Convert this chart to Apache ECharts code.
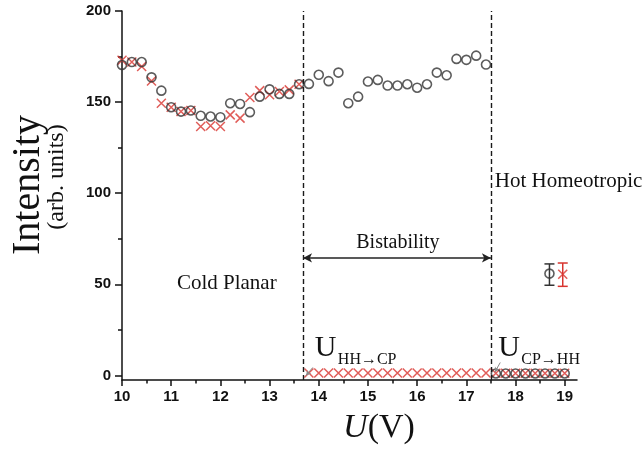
<!DOCTYPE html>
<html>
<head>
<meta charset="utf-8">
<script src="https://cdn.jsdelivr.net/npm/echarts@6/dist/echarts.min.js"></script>
<style>
html, body { margin: 0; padding: 0; background: #fff; }
#echart { width: 642px; height: 449px; }
</style>
</head>
<body>
<div id="echart"></div>
<script>
// U (V) and intensity
var upV = [10.0, 10.2, 10.4, 10.6, 10.8, 11.0, 11.2, 11.4, 11.6, 11.8, 12.0, 12.2, 12.4, 12.6, 12.8, 13.0, 13.2, 13.4, 13.6,
           13.8, 14.0, 14.2, 14.4, 14.6, 14.8, 15.0, 15.2, 15.4, 15.6, 15.8, 16.0, 16.2, 16.4, 16.6, 16.8, 17.0, 17.2, 17.4];
var upCircle = [170.4, 172, 172, 163.6, 156.3, 147.2, 144.8, 145.4, 142.5, 142.1, 141.7, 149.4, 149, 144.5, 153, 157, 154.5, 154.5, 159.8,
                160, 165, 161.5, 166.2, 149.4, 153, 161.3, 162.2, 159.1, 159.1, 159.8, 157.9, 159.8, 166.2, 164.7, 173.7, 173.2, 175.5, 170.6];
var upCrossV = [10.0, 10.2, 10.4, 10.6, 10.8, 11.0, 11.2, 11.4, 11.6, 11.8, 12.0, 12.2, 12.4, 12.6, 12.8, 13.0, 13.2, 13.4, 13.6];
var upCross = [173, 172, 169.5, 161.6, 149.4, 147.2, 144.8, 145.4, 136.6, 137, 136.6, 143, 141.2, 152.5, 156.3, 154, 155.8, 156.7, 159.8];

var lowCrossV = [13.8, 14.0, 14.2, 14.4, 14.6, 14.8, 15.0, 15.2, 15.4, 15.6, 15.8, 16.0, 16.2, 16.4, 16.6, 16.8, 17.0, 17.2, 17.4,
                 17.6, 17.8, 18.0, 18.2, 18.4, 18.6, 18.8, 19.0];
var lowCross = [1.3, 1.3, 1.3, 1.3, 1.3, 1.3, 1.3, 1.3, 1.3, 1.3, 1.3, 1.3, 1.3, 1.3, 1.3, 1.3, 1.3, 1.3, 1.3,
                1.2, 1.2, 1.2, 1.2, 1.2, 1.2, 1.2, 1.2];
var lowCircleV = [17.6, 17.8, 18.0, 18.2, 18.4, 18.6, 18.8, 19.0];
var lowCircle = [1.1, 1.1, 1.1, 1.1, 1.1, 1.1, 1.1, 1.1];

// error bar samples: [U, low, high] and their centres
var errCircle = [18.69, 49.5, 61.2];
var errCircleMid = [18.69, 55.9];
var errCross = [18.96, 48.9, 61.7];
var errCrossMid = [18.96, 55.5];

// switching voltages and tick values
var switchV = [13.68, 17.5];
var bistabLevel = 64.5;
var xTicks = [10, 11, 12, 13, 14, 15, 16, 17, 18, 19];
var xMinor = [10.5, 11.5, 12.5, 13.5, 14.5, 15.5, 16.5, 17.5, 18.5];
var yTicks = [0, 50, 100, 150, 200];
var yMinor = [25, 75, 125, 175];

var serif = '"Liberation Serif", "Times New Roman", serif';
var sans = '"Liberation Sans", Arial, sans-serif';
var red = '#d8342f';
var dark = '#333';

function pairs(xs, ys) {
    return xs.map(function (x, i) { return [x, ys[i]]; });
}

var circleData = pairs(upV, upCircle).concat(pairs(lowCircleV, lowCircle)).concat([errCircleMid]);
var crossData = pairs(upCrossV, upCross).concat(pairs(lowCrossV, lowCross)).concat([errCrossMid]);

function errorBar(params, api) {
    var x = api.value(0);
    var top = api.coord([x, api.value(2)]);
    var bot = api.coord([x, api.value(1)]);
    var color = api.visual('color');
    var w = 5;
    var st = { stroke: color, lineWidth: 1.5 };
    return {
        type: 'group',
        children: [
            { type: 'line', shape: { x1: top[0], y1: top[1], x2: bot[0], y2: bot[1] }, style: st },
            { type: 'line', shape: { x1: top[0] - w, y1: top[1], x2: top[0] + w, y2: top[1] }, style: st },
            { type: 'line', shape: { x1: bot[0] - w, y1: bot[1], x2: bot[0] + w, y2: bot[1] }, style: st }
        ]
    };
}

var chart = echarts.init(document.getElementById('echart'));

var axisBase = {
    type: 'value',
    splitLine: { show: false },
    axisLine: { onZero: false, lineStyle: { color: '#111', width: 1.5 } }
};

var option = {
    backgroundColor: '#fff',
    animation: false,
    grid: { left: 122, right: 65, top: 11, bottom: 69 },
    xAxis: [
        Object.assign({}, axisBase, {
            min: 10, max: 19.25, position: 'bottom',
            axisTick: { customValues: xTicks, length: 6, lineStyle: { color: '#111', width: 1.5 } },
            axisLabel: { customValues: xTicks, margin: 9, color: '#111', fontFamily: sans, fontWeight: 'bold', fontSize: 15 }
        }),
        Object.assign({}, axisBase, {
            min: 10, max: 19.25, position: 'bottom',
            axisLine: { show: false, onZero: false },
            axisTick: { customValues: xMinor, length: 3.5, lineStyle: { color: '#111', width: 1.5 } },
            axisLabel: { show: false }
        })
    ],
    yAxis: [
        Object.assign({}, axisBase, {
            min: -2.5, max: 200, position: 'left',
            axisTick: { customValues: yTicks, length: 7, lineStyle: { color: '#111', width: 1.5 } },
            axisLabel: { customValues: yTicks, margin: 11, color: '#111', fontFamily: sans, fontWeight: 'bold', fontSize: 15 }
        }),
        Object.assign({}, axisBase, {
            min: -2.5, max: 200, position: 'left',
            axisLine: { show: false, onZero: false },
            axisTick: { customValues: yMinor, length: 4, lineStyle: { color: '#111', width: 1.5 } },
            axisLabel: { show: false }
        })
    ],
    series: [
        {
            name: 'cross',
            type: 'scatter',
            data: crossData,
            symbol: 'path://M0,0L10,10M10,0L0,10',
            symbolSize: 9,
            itemStyle: { color: 'rgba(0,0,0,0)', borderColor: red, borderWidth: 1.5 },
            z: 3
        },
        {
            name: 'circle',
            type: 'scatter',
            data: circleData,
            symbol: 'circle',
            symbolSize: 9,
            itemStyle: { color: 'rgba(0,0,0,0)', borderColor: dark, borderWidth: 1.6 },
            z: 4,
            markLine: {
                silent: true,
                symbol: ['none', 'none'],
                label: { show: false },
                lineStyle: { color: '#1a1a1a', width: 1.4, type: [5, 3] },
                data: [
                    { xAxis: switchV[0] },
                    { xAxis: switchV[1] },
                    [
                        { coord: [switchV[0], bistabLevel], symbol: 'arrow', symbolSize: [7, 9],
                          lineStyle: { type: 'solid', width: 1.6, color: '#222' } },
                        { coord: [switchV[1], bistabLevel], symbol: 'arrow', symbolSize: [7, 9] }
                    ],
                    [
                        { coord: [13.88, 4.4], symbol: 'none', lineStyle: { type: 'solid', width: 1, color: '#888' } },
                        { coord: [13.74, 0], symbol: 'arrow', symbolSize: [4, 5] }
                    ],
                    [
                        { coord: [17.69, 7.1], symbol: 'none', lineStyle: { type: 'solid', width: 1, color: '#888' } },
                        { coord: [17.58, 1.8], symbol: 'arrow', symbolSize: [4, 5] }
                    ]
                ]
            }
        },
        {
            type: 'custom',
            renderItem: errorBar,
            data: [errCircle],
            itemStyle: { color: dark },
            z: 5
        },
        {
            type: 'custom',
            renderItem: errorBar,
            data: [errCross],
            itemStyle: { color: red },
            z: 5
        }
    ]
};

chart.setOption(option);

function px(v, i) {
    return chart.convertToPixel({ gridIndex: 0 }, [v, i]);
}

var cold = px(12.13, 50.4);
var hot = px(17.58, 106.3);
var bis = px(15.61, 72.9);
var u1 = px(13.92, 10.4);
var u2 = px(17.65, 10.4);

function uLabel(p, sub) {
    return [
        { type: 'text', x: p[0], y: p[1] + 7, style: { text: 'U', font: '30px ' + serif, fill: '#111', align: 'left', verticalAlign: 'bottom' } },
        { type: 'text', x: p[0] + 23, y: p[1] + 11, style: { text: sub, font: '16px ' + serif, fill: '#111', align: 'left', verticalAlign: 'bottom' } }
    ];
}

chart.setOption({
    graphic: [
        { type: 'text', x: cold[0], y: cold[1], style: { text: 'Cold Planar', font: '21px ' + serif, fill: '#111', align: 'center', verticalAlign: 'middle' } },
        { type: 'text', x: hot[0], y: hot[1], style: { text: 'Hot Homeotropic', font: '21px ' + serif, fill: '#111', align: 'left', verticalAlign: 'middle' } },
        { type: 'text', x: bis[0], y: bis[1], style: { text: 'Bistability', font: '20px ' + serif, fill: '#111', align: 'center', verticalAlign: 'middle' } },
        { type: 'text', x: 28, y: 185, rotation: Math.PI / 2, style: { text: 'Intensity', font: '40px ' + serif, fill: '#111', align: 'center', verticalAlign: 'middle' } },
        { type: 'text', x: 57, y: 177, rotation: Math.PI / 2, style: { text: '(arb. units)', font: '24px ' + serif, fill: '#111', align: 'center', verticalAlign: 'middle' } },
        {
            type: 'text', x: 379, y: 428,
            style: {
                text: '{i|U}{n|(V)}', align: 'center', verticalAlign: 'middle',
                rich: {
                    i: { font: 'italic 34px ' + serif, fill: '#111' },
                    n: { font: '34px ' + serif, fill: '#111' }
                }
            }
        }
    ].concat(uLabel(u1, 'HH\u2192CP')).concat(uLabel(u2, 'CP\u2192HH'))
});
</script>
</body>
</html>
